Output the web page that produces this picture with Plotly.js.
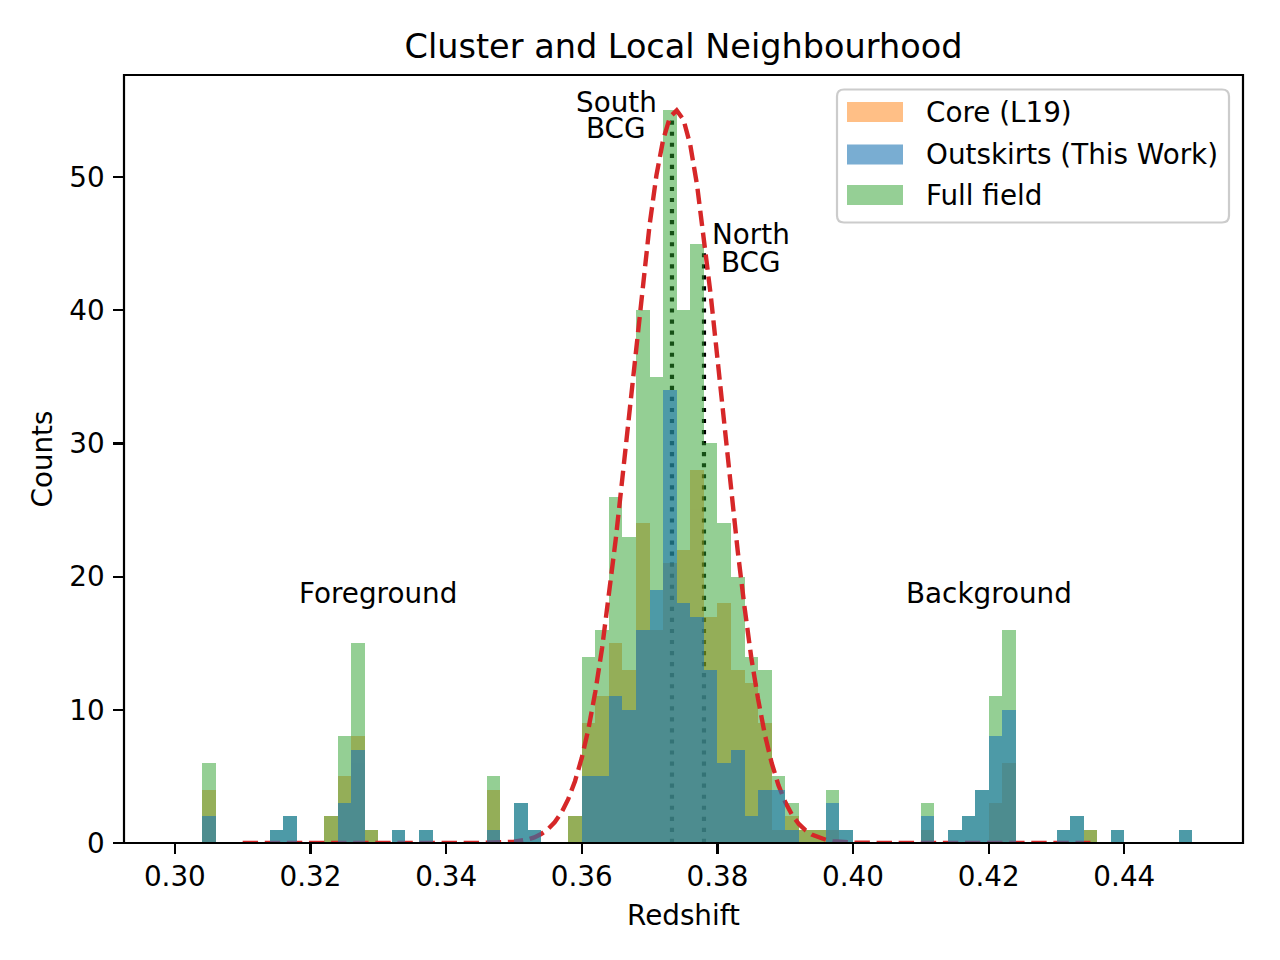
<!DOCTYPE html>
<html>
<head>
<meta charset="utf-8">
<script src="https://cdn.plot.ly/plotly-3.0.1.min.js"></script>
<style>html,body{margin:0;padding:0;background:#fff}#c{width:1280px;height:960px}</style>
</head>
<body>
<div id="c"></div>
<script>
const binStart = 0.30, binWidth = 0.002;
const coreCounts = [0,0,4,0,0,0,0,0,0,0, 0,2,5,8,1,0,0,0,0,0, 0,0,0,4,0,0,0,0,0,2,
  9,11,15,13,24,16,21,22,28,17, 18,13,12,9,1,2,1,1,1,0, 0,0,0,0,0,1,0,0,0,0, 3,6,0,0,0,0,0,1,0,0, 0,0,0,0,0];
const outskirtsCounts = [0,0,2,0,0,0,0,1,2,0, 0,0,3,7,0,0,1,0,1,0, 0,0,0,1,0,3,1,0,0,0,
  5,5,11,10,16,19,34,18,17,13, 6,7,2,4,4,1,0,0,3,1, 0,0,0,0,0,2,0,1,2,4, 8,10,0,0,0,1,2,0,0,1, 0,0,0,0,1];
const fullCounts = [0,0,6,0,0,0,0,1,2,0, 0,2,8,15,1,0,1,0,1,0, 0,0,0,5,0,3,1,0,0,2,
  14,16,26,23,40,35,55,40,45,30, 24,20,14,13,5,3,1,1,4,1, 0,0,0,0,0,3,0,1,2,4, 11,16,0,0,0,1,2,1,0,1, 0,0,0,0,1];
const seriesNames = ["Core (L19)", "Outskirts (This Work)", "Full field"];
const seriesColors = ["#ff7f0e", "#1f77b4", "#2ca02c"];
const seriesOpacity = [0.5, 0.6, 0.5];

const fitZ = [0.310,0.330,0.345,0.350,0.351,0.352,0.353,0.354,0.355,0.356,0.357,0.358,0.359,0.360,0.361,0.362,0.363,0.364,0.365,0.366,0.367,0.368,0.369,0.370,0.371,0.372,0.373,0.374,0.375,0.376,0.377,0.378,0.379,0.380,0.381,0.382,0.383,0.384,0.385,0.386,0.387,0.388,0.389,0.390,0.391,0.392,0.393,0.394,0.395,0.396,0.397,0.398,0.400,0.405,0.420,0.435];
const fitCounts = [0,0,0.01,0.095,0.16,0.26,0.42,0.67,1.03,1.55,2.28,3.29,4.64,6.39,8.61,11.36,14.65,18.46,22.76,27.45,32.37,37.3,42.1,46.4,50.1,52.8,54.5,55,54.3,52.4,49.4,45.6,41.2,36.4,31.4,26.5,21.9,17.7,13.9,10.8,8.13,6.01,4.34,3.07,2.12,1.43,0.95,0.61,0.39,0.24,0.145,0.085,0.03,0,0,0];

const bcgZ = [0.3733, 0.37802];
const bcgTops = [54.3, 44.5];

const xRange = [0.2925, 0.4575], yRange = [0, 57.66];
const xTicks = [0.30,0.32,0.34,0.36,0.38,0.40,0.42,0.44];
const yTicks = [0,10,20,30,40,50];

const F = "DejaVu Sans", FS = 27.8;
const L = 124, R = 1243, T = 75, B = 843;
const px = v => (v - L) / (R - L), py = v => (B - v) / (B - T);

const bins = coreCounts.map((_, k) => binStart + binWidth * (k + 0.5));
const bar = (vals, i, xa, ya) => ({type:"bar", x:bins, y:vals, width:binWidth, name:seriesNames[i], xaxis:xa, yaxis:ya,
  opacity:seriesOpacity[i], showlegend:false, marker:{color:seriesColors[i], line:{width:0}}});
const traces = [];
bcgZ.forEach((z,i) => traces.push({type:"scatter", mode:"lines", x:[z,z], y:[0,bcgTops[i]], xaxis:"x", yaxis:"y", showlegend:false,
  line:{color:"#000", width:4.17, dash:"4.17px,6.88px"}, hoverinfo:"skip"}));
traces.push(bar(coreCounts, 0, "x2", "y2"));
traces.push(bar(fullCounts, 2, "x2", "y2"));
traces.push({type:"scatter", mode:"lines", x:fitZ, y:fitCounts, xaxis:"x2", yaxis:"y2", showlegend:false,
  line:{color:"#d62728", width:4.4, dash:"15.4px,6.7px"}, hoverinfo:"skip"});
traces.push(bar(outskirtsCounts, 1, "x3", "y3"));

const txt = (t,x,y,extra) => Object.assign({text:t, x, y, xref:"x", yref:"y", showarrow:false, xanchor:"center", yanchor:"middle",
  font:{family:F, size:FS, color:"#000"}}, extra||{});
const annotations = [
  txt("South",0.36505,55.63), txt("BCG",0.36505,53.68),
  txt("North",0.38495,45.65), txt("BCG",0.38495,43.62),
  txt("Foreground",0.33,18.74), txt("Background",0.42,18.74)
];
const shapes = [];
shapes.push({type:"rect", xref:"paper", yref:"paper", layer:"above", x0:0, x1:1, y0:0, y1:1, fillcolor:"rgba(0,0,0,0)", line:{color:"#000", width:2.2}});
const bx0=px(837), bx1=px(1229), by0=py(89.5), by1=py(222.5), rx=7/(R-L), ry=7/(B-T);
shapes.push({type:"path", xref:"paper", yref:"paper", layer:"above",
  path:`M${bx0+rx},${by0} L${bx1-rx},${by0} Q${bx1},${by0} ${bx1},${by0-ry} L${bx1},${by1+ry} Q${bx1},${by1} ${bx1-rx},${by1} L${bx0+rx},${by1} Q${bx0},${by1} ${bx0},${by1+ry} L${bx0},${by0-ry} Q${bx0},${by0} ${bx0+rx},${by0} Z`,
  fillcolor:"#fff", line:{color:"#cccccc", width:2.2}});
const legendCenters = [112, 154.5, 195];
seriesNames.forEach((n,i) => {
  const c = legendCenters[i];
  shapes.push({type:"rect", xref:"paper", yref:"paper", layer:"above", x0:px(847), x1:px(903), y0:py(c-10), y1:py(c+10),
    fillcolor:seriesColors[i], opacity:seriesOpacity[i], line:{width:0}});
  annotations.push({text:n, xref:"paper", yref:"paper", x:px(924), y:py(c), showarrow:false, xanchor:"left", yanchor:"middle",
    font:{family:F, size:FS, color:"#000"}});
});

const axisBase = {showgrid:false, zeroline:false, showline:false,
  ticks:"outside", ticklen:9.7, tickwidth:2.2, tickcolor:"#000", tickfont:{family:F, size:FS, color:"#000"}, automargin:false};
const layout = {
  width:1280, height:960, paper_bgcolor:"#fff", plot_bgcolor:"#fff", barmode:"overlay", showlegend:false, bargap:0,
  margin:{l:L, r:1280-R, t:T, b:960-B, pad:0},
  title:{text:"Cluster and Local Neighbourhood", font:{family:F, size:33.5, color:"#000"}, x:0.5, xref:"paper", y:1-46/960, yref:"container", xanchor:"center", yanchor:"middle"},
  xaxis:Object.assign({}, axisBase, {range:xRange, tickvals:xTicks, ticktext:xTicks.map(v=>v.toFixed(2)), ticklabelstandoff:-1, title:{text:"Redshift", font:{family:F, size:FS, color:"#000"}, standoff:13}}),
  yaxis:Object.assign({}, axisBase, {range:yRange, tickvals:yTicks, ticktext:yTicks.map(String), ticklabelstandoff:3, title:{text:"Counts", font:{family:F, size:FS, color:"#000"}, standoff:8}}),
  xaxis2:{range:xRange, overlaying:"x", visible:false},
  yaxis2:{range:yRange, overlaying:"y", visible:false},
  xaxis3:{range:xRange, overlaying:"x", visible:false},
  yaxis3:{range:yRange, overlaying:"y", visible:false},
  annotations, shapes
};
Plotly.newPlot("c", traces, layout, {displayModeBar:false, staticPlot:true});
</script>
</body>
</html>
